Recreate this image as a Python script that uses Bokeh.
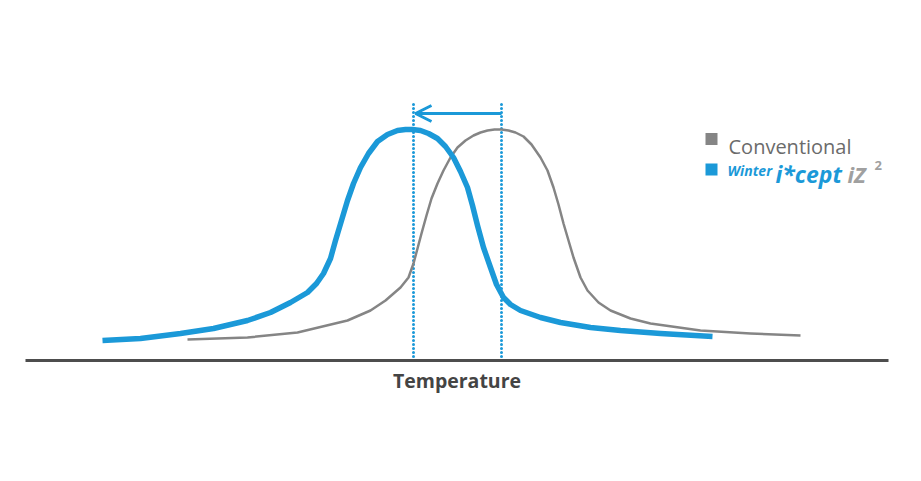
from bokeh.plotting import figure
from bokeh.models import Range1d, LinearAxis, Label, Arrow, OpenHead
from bokeh.embed import file_html
from bokeh.resources import INLINE

# ---- data (temperature position, response height above baseline) ----
series_names = ["Conventional", "Winter i*cept iZ2"]

icept_temp = [102, 140, 180, 213, 247, 270, 290, 307, 316, 323, 330, 335, 341, 347,
              353, 360, 368, 377, 387, 397, 405, 412, 420, 428, 437, 445, 453, 460,
              467, 472, 477, 483, 490, 496, 503, 510, 520, 540, 560, 590, 620, 660, 712]
icept_resp = [20, 22, 27, 32, 40, 48, 58, 68, 77, 87, 102, 120, 140, 160,
              177, 193, 207, 219, 226, 230, 231, 231, 230, 227, 222, 214, 203, 189,
              173, 155, 135, 113, 93, 76, 63, 56, 50, 43, 38, 33, 30, 27, 24]

conv_temp = [187, 247, 297, 347, 370, 385, 400, 408, 413, 417, 421, 426, 431, 437,
             443, 450, 457, 465, 473, 480, 487, 494, 501, 508, 515, 523, 531, 540,
             547, 553, 558, 563, 568, 573, 580, 587, 598, 610, 630, 650, 700, 750, 800]
conv_resp = [21, 23, 28, 40, 50, 60, 73, 83, 97, 112, 127, 145, 162, 177,
             190, 203, 213, 220, 225, 228, 230, 231, 231, 230, 228, 224, 216, 203,
             190, 173, 156, 137, 120, 103, 83, 70, 58, 50, 42, 37, 30, 27, 25]

peak_temps = [413, 501]      # peak positions (dotted markers)
marker_top = 258             # height of dotted markers
shift_level = 247            # height of the shift arrow

BLUE = "#1b99d8"
GRAY = "#858585"

p = figure(width=905, height=465, output_backend="svg", toolbar_location=None,
           x_range=Range1d(25, 888), y_range=Range1d(0, 352),
           min_border_left=25, min_border_right=17, min_border_top=8,
           min_border_bottom=105, x_axis_location=None, y_axis_location=None)
p.xgrid.visible = False
p.ygrid.visible = False
p.outline_line_color = None
p.background_fill_color = "white"
p.border_fill_color = "white"

ax = LinearAxis(axis_label="Temperature")
ax.major_tick_line_color = None
ax.minor_tick_line_color = None
ax.major_label_text_font_size = "0px"
ax.major_label_text_color = None
ax.axis_line_color = "#4d4d4d"
ax.axis_line_width = 3
ax.axis_label_text_font = "Open Sans"
ax.axis_label_text_font_style = "bold"
ax.axis_label_text_font_size = "19.5px"
ax.axis_label_text_color = "#444444"
ax.axis_label_standoff = 0
p.add_layout(ax, "below")

# dotted peak markers
p.segment(x0=peak_temps, y0=[0, 0], x1=peak_temps, y1=[marker_top, marker_top],
          line_color=BLUE, line_width=3, line_dash="0 4", line_cap="round")

# curves
p.line(conv_temp, conv_resp, line_color=GRAY, line_width=2.5, line_join="round")
p.line(icept_temp, icept_resp, line_color=BLUE, line_width=5.5, line_join="round",
       line_cap="butt")

# shift arrow
p.add_layout(Arrow(x_start=peak_temps[1], y_start=shift_level,
                   x_end=peak_temps[0] + 2, y_end=shift_level,
                   line_color=BLUE, line_width=3,
                   end=OpenHead(size=16, line_color=BLUE, line_width=3)))

# legend
p.scatter(x=[711, 711], y=[221.5, 191], marker="square", size=12,
          fill_color=[GRAY, BLUE], line_color=None)
p.add_layout(Label(x=728, y=214, text=series_names[0], text_font="Open Sans",
                   text_font_size="20px", text_color="#6b6b6b",
                   text_baseline="alphabetic"))
p.add_layout(Label(x=727, y=190, text="Winter", text_font="Open Sans",
                   text_font_style="bold italic", text_font_size="14px",
                   text_color=BLUE, text_baseline="alphabetic"))
p.add_layout(Label(x=775, y=187, text="i*cept", text_font="Open Sans",
                   text_font_style="bold italic", text_font_size="23px",
                   text_color=BLUE, text_baseline="alphabetic"))
p.add_layout(Label(x=847, y=187, text="iZ", text_font="Open Sans",
                   text_font_style="bold italic", text_font_size="22px",
                   text_color="#a0a0a0", text_baseline="alphabetic"))
p.add_layout(Label(x=874, y=195, text="2", text_font="Open Sans",
                   text_font_style="bold", text_font_size="13px",
                   text_color="#a0a0a0", text_baseline="alphabetic"))

open("out.html", "w").write(file_html(p, INLINE))
